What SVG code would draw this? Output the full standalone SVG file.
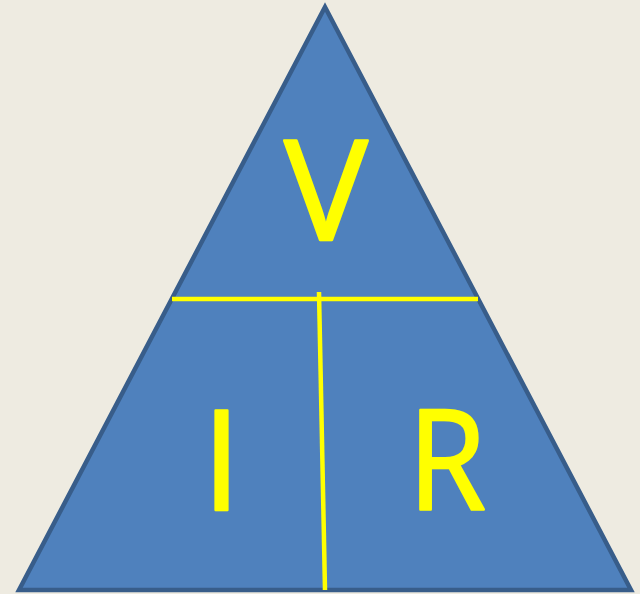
<svg xmlns="http://www.w3.org/2000/svg" width="640" height="594" viewBox="0 0 640 594">
<style>
.lbl{font-family:"Open Sans","Liberation Sans",sans-serif;font-size:140px;fill:#FFFF00;stroke:#FFFF00;stroke-width:2.5;stroke-linejoin:round;text-anchor:middle}
.div{stroke:#FFFF00;stroke-width:4.5;fill:none}
</style>
<rect width="640" height="594" fill="#EEEBE1"/>
<g id="triangle">
<polygon points="325,7 19,590 631,590" fill="#4F81BD" stroke="#385D8A" stroke-width="4.5" stroke-linejoin="miter"/>
</g>
<g id="connectors">
<line class="div" x1="172" y1="299" x2="478" y2="299"/>
<line class="div" x1="319" y1="292" x2="325" y2="590"/>
</g>
<g id="V"><text class="lbl" x="326" y="240">V</text></g>
<g id="I"><text class="lbl" x="221.5" y="510">I</text></g>
<g id="R"><text class="lbl" x="447" y="510" textLength="78" lengthAdjust="spacingAndGlyphs">R</text></g>
</svg>
